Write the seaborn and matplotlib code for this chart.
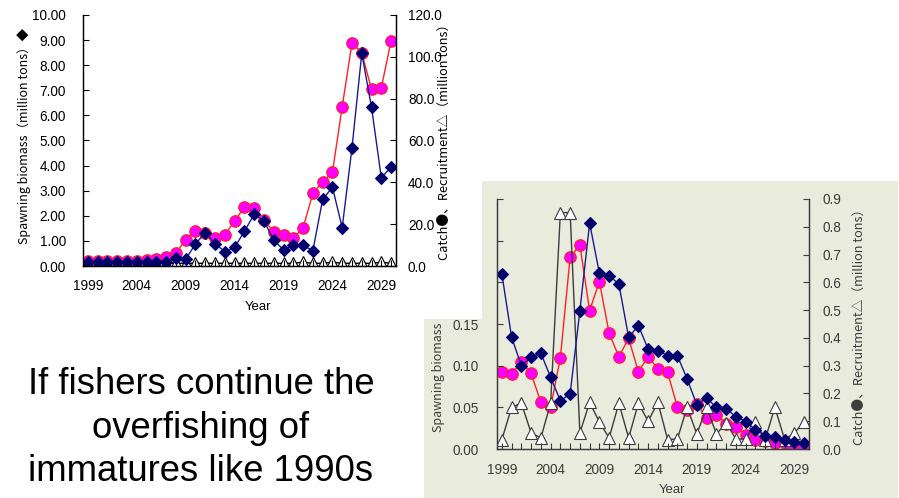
import numpy as np
import pandas as pd
import matplotlib
matplotlib.use("Agg")
import matplotlib.pyplot as plt
import seaborn as sns
from matplotlib.patches import Rectangle
from matplotlib.ticker import FormatStrFormatter

years = list(range(1999, 2031))
year_labels = ["1999", "", "", "", "", "2004", "", "", "", "", "2009", "", "", "", "", "2014",
               "", "", "", "", "2019", "", "", "", "", "2024", "", "", "", "", "2029", ""]

# upper-left chart (million tons)
biomass_a = [0.15, 0.15, 0.15, 0.15, 0.15, 0.15, 0.15, 0.16, 0.17, 0.30, 0.27, 0.88, 1.33, 0.89, 0.57, 0.74,
             1.38, 2.06, 1.80, 1.02, 0.65, 0.82, 0.82, 0.61, 2.65, 3.14, 1.53, 4.71, 8.47, 6.32, 3.51, 3.95]
catch_a = [2.5, 2.5, 2.5, 2.5, 2.5, 2.6, 2.8, 3.2, 4.3, 6.2, 12.6, 16.6, 16.0, 13.6, 15.0, 21.4,
           28.2, 27.9, 21.9, 16.4, 14.7, 13.4, 18.2, 34.8, 40.2, 44.8, 76.1, 106.7, 101.9, 84.4, 85.2, 107.7]
recruit_a = [1.3, 1.3, 1.3, 1.3, 1.3, 1.3, 1.3, 1.3, 1.3, 1.3, 1.3, 1.3, 1.3, 1.3, 1.3, 1.3,
             1.3, 1.3, 1.3, 1.3, 1.3, 1.3, 1.8, 1.3, 1.3, 1.8, 1.3, 1.3, 1.3, 1.3, 1.8, 1.3]

# lower-right chart (million tons)
biomass_b = [0.210, 0.134, 0.100, 0.110, 0.115, 0.086, 0.058, 0.066, 0.166, 0.271, 0.211, 0.208, 0.198, 0.134,
             0.148, 0.120, 0.118, 0.112, 0.112, 0.084, 0.053, 0.061, 0.050, 0.048, 0.039, 0.033, 0.023, 0.016,
             0.015, 0.011, 0.009, 0.007]
catch_b = [0.277, 0.271, 0.313, 0.272, 0.168, 0.150, 0.329, 0.691, 0.734, 0.498, 0.603, 0.417, 0.332, 0.398,
           0.279, 0.332, 0.289, 0.276, 0.151, 0.141, 0.162, 0.112, 0.124, 0.090, 0.078, 0.052, 0.032, 0.030,
           0.022, 0.022, 0.010, 0.008]
recruit_b = [0.034, 0.150, 0.165, 0.058, 0.040, 0.165, 0.851, 0.851, 0.058, 0.168, 0.097, 0.040, 0.165, 0.040,
             0.165, 0.100, 0.168, 0.034, 0.036, 0.150, 0.054, 0.150, 0.054, 0.094, 0.036, 0.036, 0.097, 0.034,
             0.150, 0.034, 0.058, 0.097]

left_label = "Spawning biomass（million tons）◆"
right_label = "Catch●、Recruitment△（million tons）"

plt.rcParams["font.family"] = ["Liberation Sans", "Noto Sans CJK JP", "DejaVu Sans"]
label_font = ["Noto Sans CJK JP", "DejaVu Sans"]

W, H = 899, 498
fig = plt.figure(figsize=(8.99, 4.98), dpi=100)


def frac(x0, y0, x1, y1):
    return [x0 / W, 1 - y1 / H, (x1 - x0) / W, (y1 - y0) / H]


def panel(rect, df, lmax, lstep, rmax, rstep, col, tri_col, pads, z):
    ax = fig.add_axes(rect)
    ax2 = ax.twinx()
    sns.lineplot(data=df, x="Year", y="catch", ax=ax2, color="#ff2020", lw=1.0, marker="o", ms=8.3,
                 markerfacecolor="#ff00ff", markeredgecolor="#ff2020", markeredgewidth=0.8)
    sns.lineplot(data=df, x="Year", y="recruit", ax=ax2, color=tri_col, lw=1.0, marker="^", ms=8.5,
                 markerfacecolor="white", markeredgecolor=tri_col, markeredgewidth=0.8)
    sns.lineplot(data=df, x="Year", y="biomass", ax=ax, color="#1a1a90", lw=1.0, marker="D", ms=6.3,
                 markerfacecolor="#000066", markeredgecolor="#000080", markeredgewidth=0.8)
    ax.set_zorder(z + 1)
    ax2.set_zorder(z)
    ax.patch.set_visible(False)
    ax2.patch.set_visible(False)

    ax.set_xlim(1998.5, 2030.5)
    ax.set_xticks(years)
    ax.set_xticklabels(year_labels)
    ax.set_ylim(0, lmax)
    ax.set_yticks(np.arange(0, lmax + 1e-9, lstep))
    ax.yaxis.set_major_formatter(FormatStrFormatter("%.2f"))
    ax2.set_ylim(0, rmax)
    ax2.set_yticks(np.arange(0, rmax + 1e-9, rstep))
    ax2.yaxis.set_major_formatter(FormatStrFormatter("%.1f"))

    for a in (ax, ax2):
        a.spines["top"].set_visible(False)
        for s in a.spines.values():
            s.set_color(col)
            s.set_linewidth(0.9)
    ax.tick_params(axis="y", direction="in", length=4, width=0.8, color=col, labelcolor=col,
                   labelsize=9.8, pad=pads[0])
    ax.tick_params(axis="x", direction="in", length=4, width=0.8, color=col, labelcolor=col,
                   labelsize=9.8, pad=pads[2])
    ax2.tick_params(axis="y", direction="in", length=4, width=0.8, color=col, labelcolor=col,
                    labelsize=9.8, pad=pads[1])

    ax.set_xlabel("Year", fontsize=9.5, color=col)
    ax.set_ylabel(left_label, fontsize=9, color=col, family=label_font)
    ax2.set_ylabel(right_label, fontsize=9.2, color=col, family=label_font)
    return ax, ax2


df_a = pd.DataFrame({"Year": years, "biomass": biomass_a, "catch": catch_a, "recruit": recruit_a})
df_b = pd.DataFrame({"Year": years, "biomass": biomass_b, "catch": catch_b, "recruit": recruit_b})

# green background of the second chart
fig.patches.append(Rectangle((424 / W, 0), (898 - 424) / W, (498 - 181) / H, transform=fig.transFigure,
                             facecolor="#e9ecdc", edgecolor="none", zorder=0.2))

bx, bx2 = panel(frac(497, 199, 809, 449), df_b, 0.30, 0.05, 0.9, 0.1, "#3c3c3c", "#3c3c3c", (13, 9.4, 10), 1)
bx.yaxis.set_label_coords(-0.189, 0.5)
bx2.yaxis.set_label_coords(1.16, 0.5)
bx.xaxis.set_label_coords(0.561, -0.164)

# white area of the first chart lying over the second one
fig.patches.append(Rectangle((0, 1 - 319 / H), 482 / W, 319 / H, transform=fig.transFigure,
                             facecolor="white", edgecolor="none", zorder=3))

ax, ax2 = panel(frac(83, 15, 396, 266), df_a, 10, 1, 120, 20, "black", "black", (12.2, 8.6, 9.4), 4)
ax.yaxis.set_label_coords(-0.188, 0.518)
ax2.yaxis.set_label_coords(1.153, 0.508)
ax.xaxis.set_label_coords(0.559, -0.163)

for a in (ax, ax2, bx, bx2):
    a.yaxis.label.set_verticalalignment("center")
ax.xaxis.label.set_verticalalignment("center")
bx.xaxis.label.set_verticalalignment("center")

fig.text(201 / W, 1 - 428 / H, "If fishers continue the\noverfishing of\nimmatures like 1990s",
         ha="center", va="center", multialignment="center", fontsize=26.3, linespacing=1.33,
         family=["Liberation Sans", "DejaVu Sans"])

fig.savefig("out.png", dpi=100)
